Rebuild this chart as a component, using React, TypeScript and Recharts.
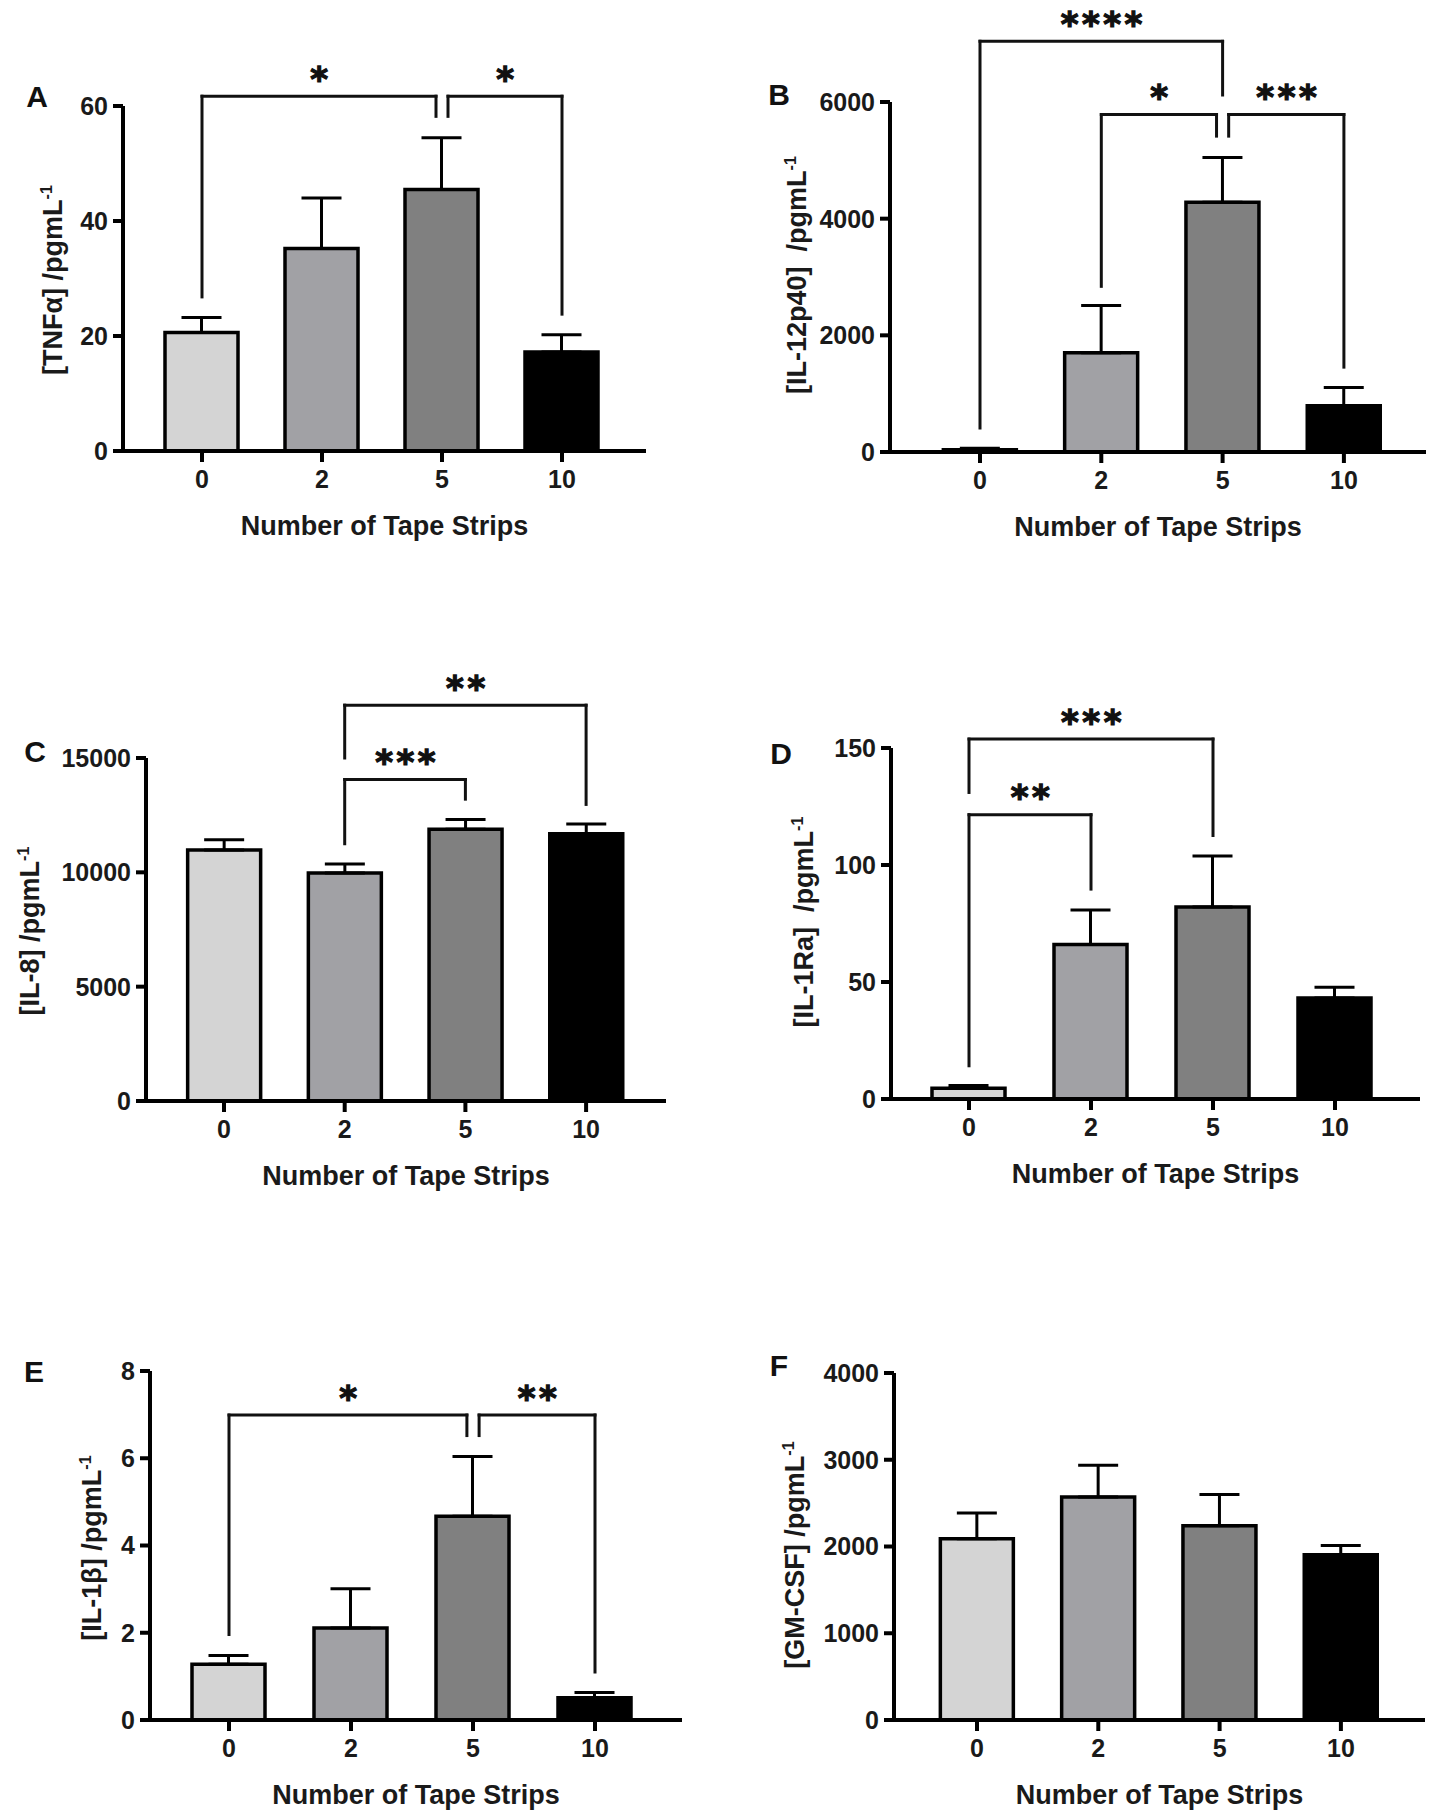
import React from 'react'
import { BarChart, Bar, XAxis, YAxis, ErrorBar, ReferenceLine, Cell, Label } from 'recharts'

// categories and colours
const strips = ['0', '2', '5', '10']
const barColors = ['#d4d4d4', '#a1a1a5', '#808080', '#000000']

// means and SEM (upper error)
const tnfMean = [20.6, 35.2, 45.5, 17.2]
const tnfErr = [2.6, 8.8, 9.0, 3.0]
const il12Mean = [40, 1700, 4280, 795]
const il12Err = [25, 810, 770, 310]
const il8Mean = [10980, 9970, 11880, 11690]
const il8Err = [450, 390, 430, 420]
const il1raMean = [4.6, 66, 82, 43.2]
const il1raErr = [1.2, 14.8, 21.8, 4.6]
const il1bMean = [1.28, 2.11, 4.67, 0.51]
const il1bErr = [0.2, 0.9, 1.37, 0.12]
const gmcsfMean = [2090, 2570, 2240, 1905]
const gmcsfErr = [295, 368, 360, 107]

// y ticks
const tnfTicks = [0, 20, 40, 60]
const il12Ticks = [0, 2000, 4000, 6000]
const il8Ticks = [0, 5000, 10000, 15000]
const il1raTicks = [0, 50, 100, 150]
const il1bTicks = [0, 2, 4, 6, 8]
const gmcsfTicks = [0, 1000, 2000, 3000, 4000]

// significance brackets: from/to bar index, top of bracket, leg ends
type Bracket = {
  from: number
  to: number
  top: number
  fromEnd: number
  toEnd: number
  stars: string
  fromShift?: number
  toShift?: number
}

const tnfBrackets: Bracket[] = [
  { from: 0, to: 2, top: 61.7, fromEnd: 26.8, toEnd: 58.2, stars: '*', toShift: -0.05 },
  { from: 2, to: 3, top: 61.7, fromEnd: 58.2, toEnd: 23.8, stars: '*', fromShift: 0.05 },
]
const il12Brackets: Bracket[] = [
  { from: 0, to: 2, top: 7040, fromEnd: 410, toEnd: 6120, stars: '****' },
  { from: 1, to: 2, top: 5785, fromEnd: 2840, toEnd: 5415, stars: '*', toShift: -0.05 },
  { from: 2, to: 3, top: 5785, fromEnd: 5415, toEnd: 1455, stars: '***', fromShift: 0.05 },
]
const il8Brackets: Bracket[] = [
  { from: 1, to: 3, top: 17310, fromEnd: 15000, toEnd: 12970, stars: '**' },
  { from: 1, to: 2, top: 14060, fromEnd: 11250, toEnd: 13200, stars: '***' },
]
const il1raBrackets: Bracket[] = [
  { from: 0, to: 2, top: 153.8, fromEnd: 131, toEnd: 112.6, stars: '***' },
  { from: 0, to: 1, top: 121.5, fromEnd: 14.2, toEnd: 89.7, stars: '**' },
]
const il1bBrackets: Bracket[] = [
  { from: 0, to: 2, top: 6.99, fromEnd: 1.96, toEnd: 6.52, stars: '*', toShift: -0.05 },
  { from: 2, to: 3, top: 6.99, fromEnd: 6.52, toEnd: 1.1, stars: '**', fromShift: 0.05 },
]

const FONT = "'Liberation Sans', Arial, sans-serif"
const INK = '#1a1a1a'
const Y_W = 100
const M_TOP = 110
const X_H = 60
const M_BOTTOM = 50
const STAR_SIZE = 34

const StarText = (props: any) => {
  const { viewBox, stars } = props
  if (!viewBox) return null
  const cx = viewBox.x + (viewBox.width || 0) / 2
  const cy = viewBox.y + (viewBox.height || 0) / 2
  return (
    <text
      x={cx + 2}
      y={cy - 24 + STAR_SIZE * 0.55}
      textAnchor="middle"
      fontFamily="'DejaVu Sans', sans-serif"
      fontWeight={700}
      fontSize={STAR_SIZE}
      letterSpacing={3.5}
      fill="#111"
      stroke="#111"
      strokeWidth={1.3}
    >
      {stars}
    </text>
  )
}

type PanelProps = {
  letter: string
  letterPos: [number, number]
  yLabel: string
  yLabelPos: [number, number]
  means: number[]
  errs: number[]
  ticks: number[]
  brackets: Bracket[]
  left: number
  top: number
  bottom: number
  right: number
  c0: number
  step: number
}

function Panel(p: PanelProps) {
  const rows = strips.map((s, i) => ({ i, strip: s, mean: p.means[i], err: [0, p.errs[i]] }))
  const width = Y_W + (p.right - p.left)
  const height = M_TOP + (p.bottom - p.top) + X_H + M_BOTTOM
  const xMin = -(p.c0 - p.left) / p.step
  const xMax = (p.right - p.c0) / p.step
  const yMax = p.ticks[p.ticks.length - 1]

  return (
    <>
      <div style={{ position: 'absolute', left: p.left - Y_W, top: p.top - M_TOP }}>
        <BarChart
          width={width}
          height={height}
          data={rows}
          margin={{ top: M_TOP, right: 0, bottom: M_BOTTOM, left: 0 }}
        >
          <XAxis
            dataKey="i"
            type="number"
            domain={[xMin, xMax]}
            ticks={[0, 1, 2, 3]}
            interval={0}
            tickFormatter={(v: number) => strips[v]}
            height={X_H}
            tickSize={11}
            tickMargin={8}
            axisLine={{ stroke: '#000', strokeWidth: 4 }}
            tickLine={{ stroke: '#000', strokeWidth: 4 }}
            tick={{ fill: INK, fontSize: 25, fontWeight: 700, fontFamily: FONT }}
          >
            <Label
              value="Number of Tape Strips"
              position="bottom"
              offset={5}
              fill={INK}
              fontSize={27}
              fontWeight={700}
              fontFamily={FONT}
            />
          </XAxis>
          <YAxis
            type="number"
            domain={[0, yMax]}
            ticks={p.ticks}
            interval={0}
            width={Y_W}
            tickSize={10}
            tickMargin={5}
            axisLine={{ stroke: '#000', strokeWidth: 4 }}
            tickLine={{ stroke: '#000', strokeWidth: 4 }}
            tick={{ fill: INK, fontSize: 25, fontWeight: 700, fontFamily: FONT }}
          />
          <Bar dataKey="mean" barSize={73} stroke="#000" strokeWidth={3.5} isAnimationActive={false}>
            {rows.map((r) => (
              <Cell key={r.strip} fill={barColors[r.i]} />
            ))}
            <ErrorBar dataKey="err" direction="y" width={20} stroke="#000" strokeWidth={3} />
          </Bar>
          {p.brackets.map((b, k) => {
            const xa = b.from + (b.fromShift || 0)
            const xb = b.to + (b.toShift || 0)
            return (
              <React.Fragment key={k}>
                <ReferenceLine
                  segment={[{ x: xa, y: b.fromEnd }, { x: xa, y: b.top }]}
                  stroke="#111"
                  strokeWidth={3}
                  strokeLinecap="square"
                  ifOverflow="visible"
                />
                <ReferenceLine
                  segment={[{ x: xa, y: b.top }, { x: xb, y: b.top }]}
                  stroke="#111"
                  strokeWidth={3}
                  strokeLinecap="square"
                  ifOverflow="visible"
                  label={<StarText stars={b.stars} />}
                />
                <ReferenceLine
                  segment={[{ x: xb, y: b.top }, { x: xb, y: b.toEnd }]}
                  stroke="#111"
                  strokeWidth={3}
                  strokeLinecap="square"
                  ifOverflow="visible"
                />
              </React.Fragment>
            )
          })}
        </BarChart>
      </div>
      <div
        style={{
          position: 'absolute',
          left: p.letterPos[0],
          top: p.letterPos[1],
          transform: 'translate(-50%, -50%)',
          fontFamily: FONT,
          fontWeight: 700,
          fontSize: 30,
          color: '#111',
        }}
      >
        {p.letter}
      </div>
      <div
        style={{
          position: 'absolute',
          left: p.yLabelPos[0],
          top: p.yLabelPos[1],
          transform: 'translate(-50%, -50%) rotate(-90deg)',
          whiteSpace: 'pre',
          fontFamily: FONT,
          fontWeight: 700,
          fontSize: 27,
          color: INK,
        }}
      >
        {p.yLabel}
        <sup style={{ fontSize: '60%' }}>-1</sup>
      </div>
    </>
  )
}

export default function App() {
  return (
    <div
      style={{
        position: 'relative',
        width: 1430,
        height: 1819,
        background: '#fff',
        overflow: 'hidden',
      }}
    >
      <style>{'body { margin: 0; }'}</style>
      <Panel
        letter="A"
        letterPos={[37, 97]}
        yLabel="[TNFα] /pgmL"
        yLabelPos={[53, 280]}
        means={tnfMean}
        errs={tnfErr}
        ticks={tnfTicks}
        brackets={tnfBrackets}
        left={123}
        top={106}
        bottom={451}
        right={646}
        c0={202}
        step={120}
      />
      <Panel
        letter="B"
        letterPos={[779, 95]}
        yLabel="[IL-12p40]  /pgmL"
        yLabelPos={[797, 275]}
        means={il12Mean}
        errs={il12Err}
        ticks={il12Ticks}
        brackets={il12Brackets}
        left={890}
        top={102}
        bottom={452}
        right={1426}
        c0={980}
        step={121.3}
      />
      <Panel
        letter="C"
        letterPos={[35, 752]}
        yLabel="[IL-8] /pgmL"
        yLabelPos={[30, 931]}
        means={il8Mean}
        errs={il8Err}
        ticks={il8Ticks}
        brackets={il8Brackets}
        left={146}
        top={758}
        bottom={1101}
        right={666}
        c0={224}
        step={120.7}
      />
      <Panel
        letter="D"
        letterPos={[781, 754]}
        yLabel="[IL-1Ra]  /pgmL"
        yLabelPos={[804, 922]}
        means={il1raMean}
        errs={il1raErr}
        ticks={il1raTicks}
        brackets={il1raBrackets}
        left={891}
        top={748}
        bottom={1099}
        right={1420}
        c0={969}
        step={122}
      />
      <Panel
        letter="E"
        letterPos={[34, 1372]}
        yLabel="[IL-1β] /pgmL"
        yLabelPos={[92, 1548]}
        means={il1bMean}
        errs={il1bErr}
        ticks={il1bTicks}
        brackets={il1bBrackets}
        left={150}
        top={1371}
        bottom={1720}
        right={682}
        c0={229}
        step={122}
      />
      <Panel
        letter="F"
        letterPos={[779, 1366]}
        yLabel="[GM-CSF] /pgmL"
        yLabelPos={[795, 1555]}
        means={gmcsfMean}
        errs={gmcsfErr}
        ticks={gmcsfTicks}
        brackets={[]}
        left={894}
        top={1373}
        bottom={1720}
        right={1425}
        c0={977}
        step={121.3}
      />
    </div>
  )
}
